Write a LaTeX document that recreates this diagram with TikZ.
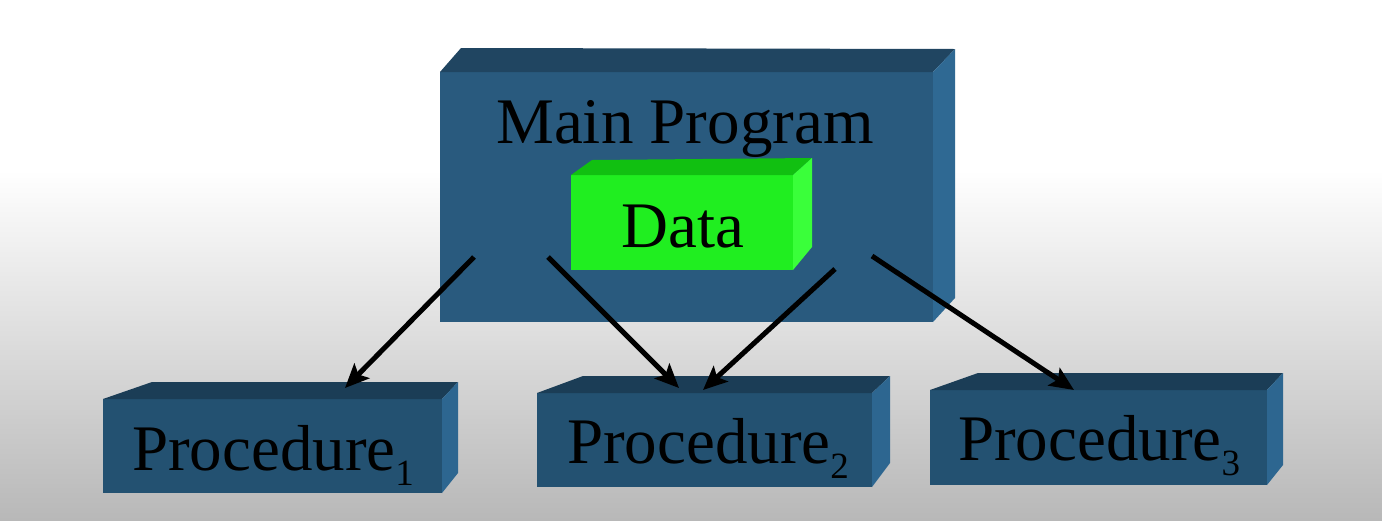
\documentclass[tikz,border=0pt]{standalone}
\usepackage{fontspec}
\newfontfamily\tnr{Liberation Serif}
\usetikzlibrary{arrows.meta,calc}
\definecolor{bgbottom}{RGB}{184,184,184}
\definecolor{mainfront}{RGB}{41,90,126}
\definecolor{maintop}{RGB}{32,69,97}
\definecolor{mainside}{RGB}{47,105,147}
\definecolor{procfront}{RGB}{35,81,113}
\definecolor{proctop}{RGB}{27,61,86}
\definecolor{procside}{RGB}{45,102,144}
\definecolor{datafront}{RGB}{32,238,32}
\definecolor{datatop}{RGB}{17,192,17}
\definecolor{dataside}{RGB}{58,255,58}
\tikzset{
  frontface/.style={inner sep=0pt, outer sep=0pt, anchor=north west},
  lbl/.style={inner sep=0pt, outer sep=0pt, font=\tnr\fontsize{65}{78}\selectfont},
  flow/.style={line width=5pt, draw=black, -{Stealth[length=24pt, width=21pt, inset=5pt]}},
}
\newcommand{\subnum}[1]{{\fontsize{37}{40}\selectfont\raisebox{-15pt}{#1}}}
\begin{document}
\begin{tikzpicture}[x=1pt, y=-1pt]
\useasboundingbox (0,0) rectangle (1382,520);
% background
\fill[white] (0,0) rectangle (1382,171);
\shade[top color=white, bottom color=bgbottom] (0,170) rectangle (1382,520);

% main program box
\node[frontface, fill=mainfront, minimum width=493pt, minimum height=250pt] (main) at (440,72) {};
\fill[maintop] (main.north west) -- ++(21,-24) -- ($(main.north east)+(22,-23)$) -- (main.north east) -- cycle;
\fill[mainside] (main.north east) -- ++(22,-23) -- ($(main.south east)+(22,-24)$) -- (main.south east) -- cycle;
\node[lbl, anchor=base] (maintxt) at (685,143) {Main Program};

% data box
\node[frontface, fill=datafront, minimum width=222pt, minimum height=95pt] (data) at (571,175) {};
\fill[datatop] (data.north west) -- ++(21,-15) -- ($(data.north east)+(19,-17)$) -- (data.north east) -- cycle;
\fill[dataside] (data.north east) -- ++(19,-17) -- ($(data.south east)+(19,-23)$) -- (data.south east) -- cycle;
\node[lbl, anchor=base] (datatxt) at (683,247) {Data};

% procedure boxes
\node[frontface, fill=procfront, minimum width=339pt, minimum height=94pt] (p1) at (103,399) {};
\fill[proctop] (p1.north west) -- ++(49,-17) -- ($(p1.north east)+(16,-17)$) -- (p1.north east) -- cycle;
\fill[procside] (p1.north east) -- ++(16,-17) -- ($(p1.south east)+(16,-20)$) -- (p1.south east) -- cycle;
\node[lbl, anchor=base west] (p1txt) at (132,470) {Procedure\subnum{1}};

\node[frontface, fill=procfront, minimum width=335pt, minimum height=94pt] (p2) at (537,393) {};
\fill[proctop] (p2.north west) -- ++(46,-17) -- ($(p2.north east)+(18,-17)$) -- (p2.north east) -- cycle;
\fill[procside] (p2.north east) -- ++(18,-17) -- ($(p2.south east)+(18,-24)$) -- (p2.south east) -- cycle;
\node[lbl, anchor=base west] (p2txt) at (567,463) {Procedure\subnum{2}};

\node[frontface, fill=procfront, minimum width=337pt, minimum height=95pt] (p3) at (930,390) {};
\fill[proctop] (p3.north west) -- ++(48,-17) -- ($(p3.north east)+(16,-17)$) -- (p3.north east) -- cycle;
\fill[procside] (p3.north east) -- ++(16,-17) -- ($(p3.south east)+(16,-20)$) -- (p3.south east) -- cycle;
\node[lbl, anchor=base west] (p3txt) at (958,460) {Procedure\subnum{3}};

% arrow ends
\coordinate (a1s) at (474,257);
\coordinate (a1e) at (345,388);
\coordinate (a2s) at (548,257);
\coordinate (a2e) at (679,388);
\coordinate (a3s) at (835,269);
\coordinate (a3e) at (703,390);
\coordinate (a4s) at (872,256);
\coordinate (a4e) at (1074,390);
\draw[flow] (a1s) -- (a1e);
\draw[flow] (a2s) -- (a2e);
\draw[flow] (a3s) -- (a3e);
\draw[flow] (a4s) -- (a4e);
\end{tikzpicture}
\end{document}
